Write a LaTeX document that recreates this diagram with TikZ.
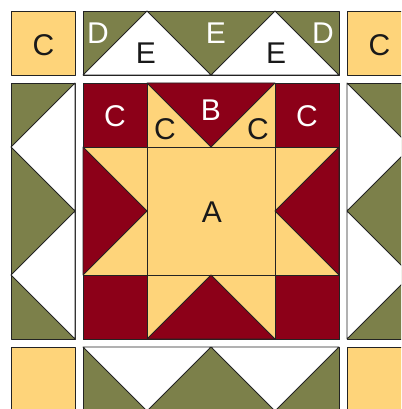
\documentclass[tikz,border=0pt]{standalone}
\usepackage{fontspec}
\setmainfont{Liberation Sans}
\usepackage{tikz}

\definecolor{quiltgold}{RGB}{254,212,122}
\definecolor{quiltred}{RGB}{140,0,24}
\definecolor{quiltgreen}{RGB}{124,128,74}
\definecolor{quiltedge}{RGB}{35,35,35}

\begin{document}
\begin{tikzpicture}[
    x=1pt, y=-1pt,
    patch/.style={draw=quiltedge, line width=0.8pt, line join=round},
    goldpatch/.style={patch, fill=quiltgold},
    redpatch/.style={patch, fill=quiltred},
    greenpatch/.style={patch, fill=quiltgreen},
    whitepatch/.style={patch, fill=white},
    lbl/.style={inner sep=0pt, font=\fontsize{30}{30}\selectfont},
    lbllight/.style={lbl, text=white},
    lbldark/.style={lbl, text=black!90},
]

\clip (0,0) rectangle (401,409);
\fill[white] (0,0) rectangle (401,409);

% --- Corner squares ---
\foreach \cx/\cy in {11/11, 347/11, 11/347, 347/347} {
    \draw[goldpatch] (\cx,\cy) rectangle ++(64,64);
}

% --- Top border (geese pointing up) ---
\draw[greenpatch] (83,11) rectangle (339,75);
\foreach \ax in {147,275} {
    \draw[whitepatch] (\ax-64,75) -- (\ax,11) -- (\ax+64,75) -- cycle;
}

% --- Bottom border (geese pointing down) ---
\draw[greenpatch] (83,347) rectangle (339,411);
\foreach \ax in {147,275} {
    \draw[whitepatch] (\ax-64,347) -- (\ax,411) -- (\ax+64,347) -- cycle;
}

% --- Left border ---
\draw[greenpatch] (11,83) rectangle (75,339);
\foreach \ay in {147,275} {
    \draw[whitepatch] (75,\ay-64) -- (11,\ay) -- (75,\ay+64) -- cycle;
}

% --- Right border ---
\draw[greenpatch] (347,83) rectangle (411,339);
\foreach \ay in {147,275} {
    \draw[whitepatch] (347,\ay-64) -- (411,\ay) -- (347,\ay+64) -- cycle;
}

% --- Star block: background and units ---
\draw[goldpatch] (83,83) rectangle (339,339);
\draw[goldpatch] (147,83) rectangle (275,147);
\draw[goldpatch] (147,275) rectangle (275,339);
\draw[goldpatch] (83,147) rectangle (147,275);
\draw[goldpatch] (275,147) rectangle (339,275);
\draw[goldpatch] (147,147) rectangle (275,275);

% --- Star block: red corners ---
\foreach \cx/\cy in {83/83, 275/83, 83/275, 275/275} {
    \draw[redpatch] (\cx,\cy) rectangle ++(64,64);
}

% --- Star points ---
\draw[redpatch] (147,83) -- (275,83) -- (211,147) -- cycle;
\draw[redpatch] (147,339) -- (275,339) -- (211,275) -- cycle;
\draw[redpatch] (83,147) -- (83,275) -- (147,211) -- cycle;
\draw[redpatch] (339,147) -- (339,275) -- (275,211) -- cycle;

% --- Labels ---
\node[lbldark] (cornerL) at (43.5,45) {C};
\node[lbldark] (cornerR) at (379.5,45) {C};
\node[lbllight] (dL) at (98,33) {D};
\node[lbldark] (eL) at (146,53) {E};
\node[lbllight] (eM) at (216,33) {E};
\node[lbldark] (eR) at (276,53) {E};
\node[lbllight] (dR) at (323,33) {D};
\node[lbllight] (redCL) at (115,116) {C};
\node[lbldark] (goldCL) at (165,129) {C};
\node[lbllight] (pointB) at (211,110) {B};
\node[lbldark] (goldCR) at (258,129) {C};
\node[lbllight] (redCR) at (307,116) {C};
\node[lbldark] (centerA) at (212,212) {A};

\end{tikzpicture}
\end{document}
